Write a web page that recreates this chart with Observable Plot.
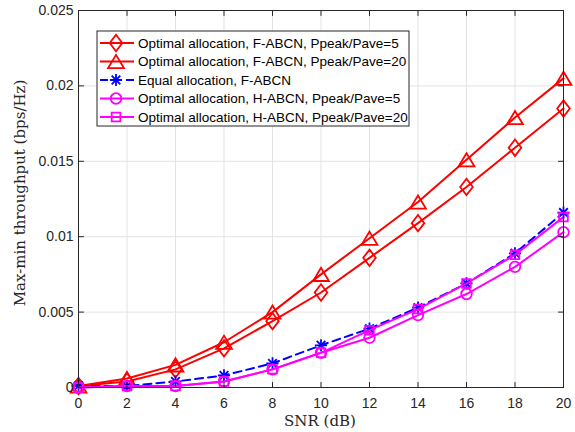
<!DOCTYPE html>
<html>
<head>
<meta charset="utf-8">
<script src="https://cdn.jsdelivr.net/npm/d3@7"></script>
<script src="https://cdn.jsdelivr.net/npm/@observablehq/plot@0.6"></script>
<style>
  html, body { margin: 0; padding: 0; background: #ffffff; }
  #chart { width: 575px; height: 432px; }
</style>
</head>
<body>
<div id="chart"></div>
<script>
// ---- data ----
const snr = [0, 2, 4, 6, 8, 10, 12, 14, 16, 18, 20];
const optF5  = [0.0001, 0.0004, 0.0012, 0.0026, 0.0044, 0.0063, 0.0086, 0.0109, 0.0133, 0.0159, 0.0185];
const optF20 = [0.0001, 0.0006, 0.0015, 0.0030, 0.0050, 0.0075, 0.0099, 0.0123, 0.0151, 0.0179, 0.0205];
const equalF = [0.0001, 0.0001, 0.0004, 0.0008, 0.0016, 0.0028, 0.0039, 0.0053, 0.0069, 0.0089, 0.0116];
const optH5  = [0.0000, 0.0001, 0.0001, 0.0004, 0.0012, 0.0023, 0.0033, 0.0048, 0.0062, 0.0080, 0.0103];
const optH20 = [0.0000, 0.0001, 0.0001, 0.0004, 0.0012, 0.0023, 0.0038, 0.0052, 0.0069, 0.0088, 0.0113];
const seriesNames = [
  "Optimal allocation, F-ABCN, Ppeak/Pave=5",
  "Optimal allocation, F-ABCN, Ppeak/Pave=20",
  "Equal allocation, F-ABCN",
  "Optimal allocation, H-ABCN, Ppeak/Pave=5",
  "Optimal allocation, H-ABCN, Ppeak/Pave=20"
];
const xTicks = [0, 2, 4, 6, 8, 10, 12, 14, 16, 18, 20];
const yTicks = [0, 0.005, 0.01, 0.015, 0.02, 0.025];
const xLabel = "SNR (dB)";
const yLabel = "Max-min throughput (bps/Hz)";

// ---- marker shapes (MATLAB-like) ----
const symDiamond = {draw(ctx, size) {
  const r = Math.sqrt(size / Math.PI), w = r, h = r * 1.3;
  ctx.moveTo(0, -h); ctx.lineTo(w, 0); ctx.lineTo(0, h); ctx.lineTo(-w, 0); ctx.closePath();
}};
const symTriangle = {draw(ctx, size) {
  const r = Math.sqrt(size / Math.PI), w = r * 1.2, h = r;
  ctx.moveTo(0, -h); ctx.lineTo(w, h); ctx.lineTo(-w, h); ctx.closePath();
}};

// ---- styles ----
const RED = "#ff0000", BLUE = "#0000ff", MAG = "#ff00ff", AXIS = "#262626";
const styles = [
  {color: RED,  symbols: [symDiamond], r: 6.3, dash: null},
  {color: RED,  symbols: [symTriangle], r: 6.6, dash: null},
  {color: BLUE, symbols: [d3.symbolPlus, d3.symbolTimes], r: 4.0, dash: "8,5"},
  {color: MAG,  symbols: [d3.symbolCircle], r: 5.3, dash: null},
  {color: MAG,  symbols: [d3.symbolSquare2], r: 5.5, dash: null}
];

const valuesList = [optF5, optF20, equalF, optH5, optH20];
const series = valuesList.map((vals, k) => snr.map((x, i) => ({snr: x, v: vals[i], name: seriesNames[k]})));

// inward tick shape for vector marks
const tickShape = {draw(context, l) { context.moveTo(0, 0); context.lineTo(0, -l); }};
const inTicks = (data, ch, frameAnchor, rotate) =>
  Plot.vector(data, {[ch]: d => d, frameAnchor, rotate, length: 5, anchor: "start",
    shape: tickShape, stroke: AXIS, strokeWidth: 1});

const marks = [
  Plot.gridX(xTicks, {stroke: "#e3e3e3", strokeOpacity: 1}),
  Plot.gridY(yTicks, {stroke: "#e3e3e3", strokeOpacity: 1}),
];
series.forEach((data, k) => {
  const s = styles[k];
  marks.push(Plot.line(data, {x: "snr", y: "v", stroke: s.color, strokeWidth: 2,
    strokeDasharray: s.dash, strokeLinejoin: "round"}));
  s.symbols.forEach(sym => {
    marks.push(Plot.dot(data, {x: "snr", y: "v", symbol: () => sym, r: s.r,
      stroke: s.color, strokeWidth: 1.8, fill: "none"}));
  });
});
marks.push(
  Plot.frame({stroke: AXIS, strokeWidth: 1}),
  inTicks(xTicks, "x", "bottom", 0),
  inTicks(xTicks, "x", "top", 180),
  inTicks(yTicks, "y", "left", 90),
  inTicks(yTicks, "y", "right", -90),
  Plot.axisX(xTicks, {anchor: "bottom", tickSize: 0, tickPadding: 11, label: null, fill: AXIS}),
  Plot.axisY(yTicks, {anchor: "left", tickSize: 0, tickPadding: 5, label: null, fill: AXIS,
    tickFormat: d => String(d)})
);

const chart = Plot.plot({
  width: 575, height: 432,
  marginLeft: 78, marginRight: 12, marginTop: 10, marginBottom: 45,
  x: {domain: [0, 20], label: null},
  y: {domain: [0, 0.025], label: null},
  style: {fontFamily: "'Liberation Sans', Arial, sans-serif", fontSize: "14px", background: "#ffffff", color: AXIS, overflow: "visible"},
  marks
});
document.getElementById("chart").appendChild(chart);

// ---- axis titles & legend ----
const svg = d3.select(chart);
svg.append("text").text(xLabel)
  .attr("x", 320).attr("y", 426)
  .attr("text-anchor", "middle")
  .attr("font-family", "'DejaVu Serif', serif").attr("font-size", 15).attr("fill", AXIS);
svg.append("text").text(yLabel)
  .attr("transform", "translate(25,193) rotate(-90)")
  .attr("text-anchor", "middle")
  .attr("font-family", "'DejaVu Serif', serif").attr("font-size", 15).attr("fill", AXIS);

const lg = svg.append("g");
lg.append("rect").attr("x", 97).attr("y", 31).attr("width", 312).attr("height", 95)
  .attr("fill", "#ffffff").attr("stroke", AXIS).attr("stroke-width", 1);
seriesNames.forEach((name, k) => {
  const s = styles[k];
  const cy = 43 + k * 18.5;
  lg.append("line").attr("x1", 100).attr("x2", 134).attr("y1", cy).attr("y2", cy)
    .attr("stroke", s.color).attr("stroke-width", 2).attr("stroke-dasharray", s.dash);
  s.symbols.forEach(sym => {
    lg.append("path")
      .attr("d", d3.symbol(sym, Math.PI * s.r * s.r)())
      .attr("transform", `translate(116,${cy})`)
      .attr("fill", "none").attr("stroke", s.color).attr("stroke-width", 1.8);
  });
  lg.append("text").text(name).attr("x", 138).attr("y", cy).attr("dy", "0.35em")
    .attr("text-anchor", "start")
    .attr("font-family", "'Liberation Sans', Arial, sans-serif").attr("font-size", 13.5)
    .attr("fill", "#000000");
});
</script>
</body>
</html>
